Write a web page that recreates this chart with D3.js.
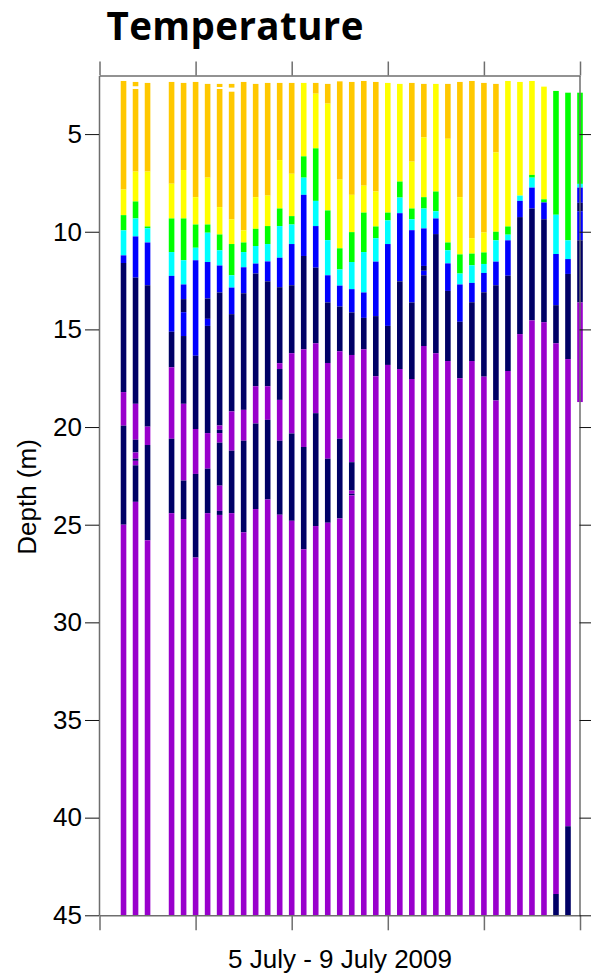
<!DOCTYPE html>
<html>
<head>
<meta charset="utf-8">
<script src="https://cdn.jsdelivr.net/npm/d3@7"></script>
<style>
  body { margin: 0; background: #fff; }
  svg { display: block; }
</style>
</head>
<body>
<svg id="chart" width="591" height="974"></svg>
<script>
// CTD casts, 3-hourly, 5-10 July 2009
const castTimes = [
  "2009-07-05 06:00", "2009-07-05 09:00", "2009-07-05 12:00", "2009-07-05 18:00", "2009-07-05 21:00",
  "2009-07-06 00:00", "2009-07-06 03:00", "2009-07-06 06:00", "2009-07-06 09:00", "2009-07-06 12:00",
  "2009-07-06 15:00", "2009-07-06 18:00", "2009-07-06 21:00", "2009-07-07 00:00", "2009-07-07 03:00",
  "2009-07-07 06:00", "2009-07-07 09:00", "2009-07-07 12:00", "2009-07-07 15:00", "2009-07-07 18:00",
  "2009-07-07 21:00", "2009-07-08 00:00", "2009-07-08 03:00", "2009-07-08 06:00", "2009-07-08 09:00",
  "2009-07-08 12:00", "2009-07-08 15:00", "2009-07-08 18:00", "2009-07-08 21:00", "2009-07-09 00:00",
  "2009-07-09 03:00", "2009-07-09 06:00", "2009-07-09 09:00", "2009-07-09 12:00", "2009-07-09 15:00",
  "2009-07-09 18:00", "2009-07-09 21:00", "2009-07-10 00:00"
];

// deepest sample of each cast (m)
const castBottoms = [
  45, 45, 45, 45, 45, 45, 45, 45, 45, 45,
  45, 45, 45, 45, 45, 45, 45, 45, 45, 45,
  45, 45, 45, 45, 45, 45, 45, 45, 45, 45,
  45, 45, 45, 45, 45, 45, 45, 18.72
];

// each cast: [depth where a temperature class starts, class index]; -1 = no data
const castLayers = [
  [[2.28,0],[7.84,1],[9.15,2],[9.93,3],[11.21,4],[11.6,5],[18.21,6],[19.93,5],[25.0,6]],
  [[2.33,0],[2.55,-1],[2.69,0],[6.92,1],[8.45,2],[9.32,3],[10.24,4],[12.35,5],[18.81,6],[20.65,5],[21.3,6],[21.62,5],[21.73,6],[21.96,5],[23.83,6]],
  [[2.38,0],[6.92,1],[9.73,2],[9.82,3],[10.55,4],[12.74,5],[19.98,6],[20.92,5],[25.8,6]],
  [[2.33,0],[7.54,1],[9.32,2],[11.04,3],[12.26,4],[15.12,5],[16.94,6],[20.6,5],[24.41,6]],
  [[2.38,0],[6.84,1],[9.32,2],[11.46,3],[12.7,4],[13.45,5],[14.12,4],[15.34,5],[18.81,6],[22.74,5],[24.71,6]],
  [[2.33,0],[8.23,1],[9.63,2],[10.82,3],[11.46,4],[16.35,5],[20.1,6],[22.4,5],[26.68,6]],
  [[2.43,0],[7.23,1],[9.63,2],[10.05,3],[11.55,4],[13.42,5],[14.46,4],[14.82,5],[20.31,6],[22.13,5],[24.41,6]],
  [[2.43,0],[2.59,-1],[2.69,0],[8.74,1],[10.14,2],[10.95,3],[11.73,4],[13.11,5],[19.92,6],[20.14,5],[20.31,6],[20.8,5],[23.0,6],[24.29,5],[24.5,6]],
  [[2.43,0],[2.62,-1],[2.83,0],[9.37,1],[10.63,2],[12.23,3],[12.86,4],[14.22,5],[19.2,6],[21.21,5],[24.41,6]],
  [[2.33,0],[9.93,1],[10.55,2],[11.04,3],[11.82,4],[13.15,5],[19.12,6],[20.7,5],[25.39,6]],
  [[2.43,0],[8.23,1],[9.85,2],[10.73,3],[11.63,4],[12.14,5],[17.91,6],[19.82,5],[24.2,6]],
  [[2.38,0],[8.15,1],[9.71,2],[10.63,3],[11.52,4],[12.54,5],[17.91,6],[19.63,5],[23.71,6]],
  [[2.38,0],[6.33,1],[8.81,2],[9.71,3],[11.33,4],[12.84,5],[16.73,6],[17.03,5],[18.61,6],[20.7,5],[24.49,6]],
  [[2.38,0],[7.03,1],[9.2,2],[9.63,3],[10.63,4],[12.74,5],[16.22,6],[20.33,5],[24.8,6]],
  [[2.38,1],[6.14,2],[7.23,3],[8.11,4],[11.24,5],[16.02,6],[21.02,5],[26.26,6]],
  [[2.38,0],[2.93,1],[5.73,2],[8.42,3],[9.71,4],[11.84,5],[15.71,6],[19.29,5],[25.07,6]],
  [[2.43,0],[3.44,1],[8.91,2],[10.43,3],[12.23,4],[13.62,5],[16.72,6],[21.62,5],[24.9,6]],
  [[2.3,0],[7.33,1],[10.85,2],[11.93,3],[12.76,4],[13.83,5],[16.12,6],[20.6,5],[24.68,6]],
  [[2.33,0],[8.11,1],[10.02,2],[11.55,3],[12.94,4],[14.13,5],[16.31,6],[21.8,5],[23.25,6],[23.42,5],[23.5,6]],
  [[2.28,0],[7.64,1],[9.02,2],[11.04,3],[13.11,4],[14.41,5],[16.02,6]],
  [[2.33,0],[7.94,1],[9.73,2],[10.33,3],[11.53,4],[14.32,5],[17.4,6]],
  [[2.38,1],[9.02,2],[9.42,3],[10.63,4],[14.82,5],[16.82,6]],
  [[2.43,1],[7.43,2],[8.25,3],[9.05,4],[12.54,5],[17.03,6]],
  [[2.38,0],[6.41,1],[8.81,2],[9.36,3],[9.92,4],[13.62,5],[17.54,6]],
  [[2.43,0],[5.17,1],[8.23,2],[8.81,3],[9.83,4],[11.75,5],[12.0,4],[12.23,5],[15.85,6]],
  [[2.43,1],[7.94,2],[8.95,3],[9.32,4],[10.12,5],[16.22,6]],
  [[2.43,0],[5.24,1],[10.55,2],[10.95,3],[11.62,4],[13.03,5],[16.62,6]],
  [[2.33,0],[8.23,1],[11.16,2],[12.14,3],[12.7,4],[14.61,5],[17.5,6]],
  [[2.28,0],[10.33,1],[11.12,2],[11.72,3],[12.62,4],[13.61,5],[16.62,6]],
  [[2.38,0],[10.04,1],[11.06,2],[11.65,3],[12.11,4],[13.1,5],[17.42,6]],
  [[2.43,0],[5.94,1],[10.0,2],[10.44,3],[11.53,4],[12.74,5],[18.64,6]],
  [[2.28,1],[9.73,2],[10.15,3],[10.44,4],[12.25,5],[17.13,6]],
  [[2.33,1],[8.15,3],[8.42,4],[9.25,5],[15.24,6]],
  [[2.28,1],[7.09,2],[7.23,3],[7.74,4],[8.81,5],[14.54,6]],
  [[2.57,1],[8.34,2],[8.5,4],[9.36,5],[14.63,6]],
  [[2.79,2],[9.13,3],[11.14,4],[13.76,5],[15.71,6],[43.91,5]],
  [[2.88,2],[10.44,3],[11.4,4],[12.16,5],[16.52,6],[40.44,5]],
  [[2.88,2],[7.55,3],[7.74,4],[8.52,5],[8.95,4],[10.44,5],[13.62,6]]
];

// temperature classes, warm to cold
const bandColors = ["#ffc800", "#ffff00", "#00ff00", "#00ffff", "#0000ff", "#000066", "#9900cc"];

const depthTicks = [5, 10, 15, 20, 25, 30, 35, 40, 45];
const timeStart = "2009-07-05 00:00";
const timeEnd = "2009-07-10 00:00";
const titleText = "Temperature";
const xTitle = "5 July - 9 July 2009";
const yTitle = "Depth (m)";

const parse = d3.timeParse("%Y-%m-%d %H:%M");
const svg = d3.select("#chart");

const x = d3.scaleTime()
  .domain([parse(timeStart), parse(timeEnd)])
  .range([99.5, 580]);
const y = d3.scaleLinear()
  .domain([2, 45])
  .range([75.5, 915.3]);

// flatten casts into coloured depth segments
const segments = [];
castLayers.forEach((layers, i) => {
  const t = parse(castTimes[i]);
  layers.forEach((l, k) => {
    const bottom = k + 1 < layers.length ? layers[k + 1][0] : castBottoms[i];
    if (l[1] >= 0) segments.push({ t, top: l[0], bottom, band: l[1] });
  });
});

const barW = 5.6;
svg.append("g")
  .selectAll("rect")
  .data(segments)
  .join("rect")
  .attr("x", d => x(d.t) - barW / 2)
  .attr("width", barW)
  .attr("y", d => y(d.top))
  .attr("height", d => y(d.bottom) - y(d.top))
  .attr("fill", d => bandColors[d.band]);

const frameColor = "#6e6e6e";
const fontFamily = "'Liberation Sans', Arial, sans-serif";

// time axes (top and bottom), daily ticks, no labels
const xTop = svg.append("g")
  .attr("transform", `translate(0,${y.range()[0]})`)
  .call(d3.axisTop(x).ticks(d3.timeDay.every(1)).tickSize(14).tickSizeOuter(0).tickFormat(""));
const xBot = svg.append("g")
  .attr("transform", `translate(0,${y.range()[1]})`)
  .call(d3.axisBottom(x).ticks(d3.timeDay.every(1)).tickSize(15).tickSizeOuter(0).tickFormat(""));
[xTop, xBot].forEach(g => {
  g.select(".domain").attr("stroke", frameColor).attr("stroke-width", 1.5);
  g.selectAll(".tick line").attr("stroke", frameColor).attr("stroke-width", 1.5);
});

// depth axes (left labelled, right ticks only)
const yLeft = svg.append("g")
  .attr("transform", `translate(${x.range()[0] - 0.5},0)`)
  .call(d3.axisLeft(y).tickValues(depthTicks).tickSize(14).tickSizeOuter(0).tickPadding(3));
const yRight = svg.append("g")
  .attr("transform", `translate(${x.range()[1] - 0.5},0)`)
  .call(d3.axisRight(y).tickValues(depthTicks).tickSize(14).tickSizeOuter(0).tickFormat(""));
[yLeft, yRight].forEach(g => {
  g.select(".domain").attr("stroke", frameColor).attr("stroke-width", 1.5);
  g.selectAll(".tick line").attr("stroke", "#111").attr("stroke-width", 1);
});
yLeft.selectAll(".tick text")
  .attr("fill", "#000")
  .style("font-family", fontFamily)
  .style("font-size", "26px");

// axis titles
svg.append("text")
  .attr("x", 340)
  .attr("y", 968)
  .attr("text-anchor", "middle")
  .style("font-family", fontFamily)
  .style("font-size", "26px")
  .text(xTitle);

svg.append("text")
  .attr("transform", "translate(36,497) rotate(-90)")
  .attr("text-anchor", "middle")
  .style("font-family", fontFamily)
  .style("font-size", "26px")
  .text(yTitle);

// chart title, stretched to its set width
svg.append("text")
  .attr("x", 106.5)
  .attr("y", 39.5)
  .attr("textLength", 257)
  .attr("lengthAdjust", "spacing")
  .style("font-family", "'Open Sans', 'Noto Sans', sans-serif")
  .style("font-weight", 700)
  .style("font-size", "38.5px")
  .text(titleText);
</script>
</body>
</html>
